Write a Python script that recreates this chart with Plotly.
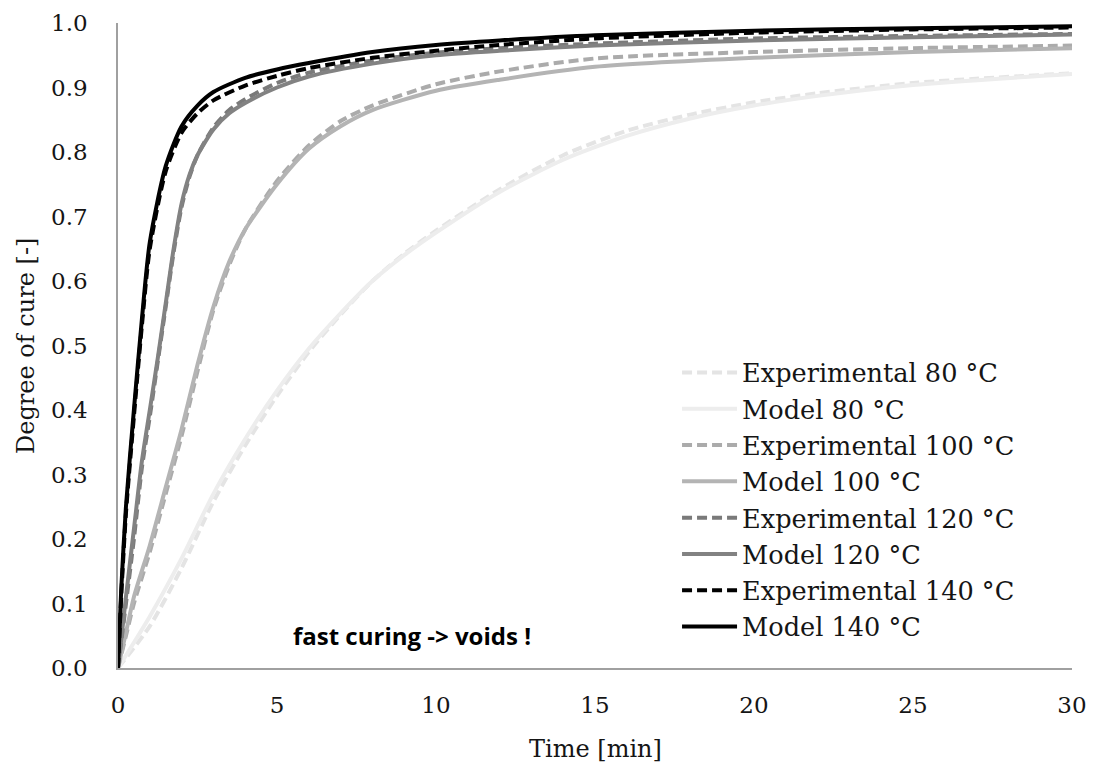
import plotly.graph_objects as go

# ---- data (time in minutes, degree of cure) ----
t_exp80 = [0, 1, 2, 3, 4, 5, 6, 7, 8, 9, 10, 12, 14, 16, 18, 20, 22, 25, 30]
a_exp80 = [0, 0.065, 0.155, 0.258, 0.345, 0.422, 0.49, 0.548, 0.60, 0.642, 0.678, 0.742, 0.795, 0.833, 0.858, 0.877, 0.891, 0.907, 0.922]
t_mod80 = [0, 1, 2, 3, 4, 5, 6, 7, 8, 9, 10, 12, 14, 16, 18, 20, 22, 25, 30]
a_mod80 = [0, 0.08, 0.17, 0.27, 0.355, 0.43, 0.495, 0.55, 0.60, 0.64, 0.675, 0.738, 0.788, 0.825, 0.852, 0.872, 0.887, 0.904, 0.921]

t_exp100 = [0, 0.25, 0.5, 1, 1.5, 2, 2.5, 3, 3.5, 4, 5, 6, 7, 8, 10, 12, 15, 20, 25, 30]
a_exp100 = [0, 0.05, 0.10, 0.18, 0.27, 0.36, 0.46, 0.555, 0.625, 0.68, 0.755, 0.81, 0.848, 0.872, 0.905, 0.925, 0.945, 0.955, 0.961, 0.965]
t_mod100 = [0, 0.25, 0.5, 1, 1.5, 2, 2.5, 3, 3.5, 4, 5, 6, 7, 8, 10, 12, 15, 20, 25, 30]
a_mod100 = [0, 0.055, 0.11, 0.19, 0.28, 0.37, 0.47, 0.56, 0.63, 0.68, 0.75, 0.805, 0.84, 0.865, 0.895, 0.912, 0.932, 0.946, 0.955, 0.961]

t_exp120 = [0, 0.25, 0.5, 0.75, 1, 1.25, 1.5, 1.75, 2, 2.25, 2.5, 3, 3.5, 4, 5, 6, 8, 10, 12, 15, 20, 25, 30]
a_exp120 = [0, 0.10, 0.20, 0.31, 0.39, 0.475, 0.56, 0.645, 0.715, 0.762, 0.795, 0.838, 0.865, 0.882, 0.907, 0.923, 0.942, 0.954, 0.961, 0.968, 0.976, 0.980, 0.983]
t_mod120 = [0, 0.25, 0.5, 0.75, 1, 1.25, 1.5, 1.75, 2, 2.25, 2.5, 3, 3.5, 4, 5, 6, 8, 10, 12, 15, 20, 25, 30]
a_mod120 = [0, 0.11, 0.215, 0.32, 0.40, 0.48, 0.565, 0.65, 0.72, 0.765, 0.795, 0.835, 0.86, 0.876, 0.90, 0.917, 0.937, 0.95, 0.957, 0.965, 0.973, 0.978, 0.982]

t_exp140 = [0, 0.1, 0.25, 0.5, 0.75, 1, 1.5, 2, 2.5, 3, 4, 5, 6, 8, 10, 12, 15, 20, 25, 30]
a_exp140 = [0, 0.11, 0.24, 0.39, 0.53, 0.65, 0.77, 0.83, 0.86, 0.88, 0.903, 0.918, 0.93, 0.946, 0.957, 0.966, 0.976, 0.985, 0.990, 0.993]
t_mod140 = [0, 0.1, 0.25, 0.5, 0.75, 1, 1.5, 2, 2.5, 3, 4, 5, 6, 8, 10, 12, 15, 20, 25, 30]
a_mod140 = [0, 0.12, 0.25, 0.40, 0.54, 0.66, 0.778, 0.84, 0.872, 0.893, 0.915, 0.928, 0.938, 0.955, 0.966, 0.973, 0.981, 0.988, 0.992, 0.995]

x_ticks = [0, 5, 10, 15, 20, 25, 30]
y_ticks = [0.0, 0.1, 0.2, 0.3, 0.4, 0.5, 0.6, 0.7, 0.8, 0.9, 1.0]

series = [
    ("Experimental 80 °C", t_exp80, a_exp80, "#e4e4e4", True),
    ("Model 80 °C", t_mod80, a_mod80, "#ededed", False),
    ("Experimental 100 °C", t_exp100, a_exp100, "#ababab", True),
    ("Model 100 °C", t_mod100, a_mod100, "#b4b4b4", False),
    ("Experimental 120 °C", t_exp120, a_exp120, "#7a7a7a", True),
    ("Model 120 °C", t_mod120, a_mod120, "#828282", False),
    ("Experimental 140 °C", t_exp140, a_exp140, "#000000", True),
    ("Model 140 °C", t_mod140, a_mod140, "#000000", False),
]

fig = go.Figure()
for name, t, a, col, dashed in series:
    fig.add_trace(go.Scatter(
        x=t, y=a, name=name, mode="lines",
        line=dict(color=col, width=4, dash="10px,5px" if dashed else "solid",
                  shape="spline", smoothing=0.7),
    ))

SERIF = "DejaVu Serif"
TXT = "#151515"
# the page body has an 8px margin, so the figure is offset by (8, 8)
fig.update_layout(
    width=1086, height=756,
    margin=dict(l=110, r=22, t=15, b=96, autoexpand=False),
    paper_bgcolor="white", plot_bgcolor="white",
    font=dict(family=SERIF, size=24, color=TXT),
    showlegend=True,
    legend=dict(x=0.586, y=0.494, xanchor="left", yanchor="top",
                bgcolor="rgba(0,0,0,0)", itemwidth=55,
                font=dict(family=SERIF, size=25.6, color=TXT),
                tracegroupgap=0),
    xaxis=dict(range=[0, 30], tickvals=x_ticks, ticktext=[str(v) for v in x_ticks],
               showgrid=False, zeroline=False, showline=True, linecolor="#a0a0a0",
               linewidth=1.5, ticks="", ticklabelstandoff=16, automargin=False,
               tickfont=dict(family=SERIF, size=23, color=TXT)),
    yaxis=dict(range=[0, 1.0], tickvals=y_ticks, ticktext=[f"{v:.1f}" for v in y_ticks],
               showgrid=False, zeroline=False, showline=True, linecolor="#a0a0a0",
               linewidth=1.5, ticks="", ticklabelstandoff=24, automargin=False,
               tickfont=dict(family=SERIF, size=23, color=TXT)),
    annotations=[
        dict(text="Time [min]", xref="paper", yref="paper", x=0.5, y=-0.125,
             xanchor="center", yanchor="middle", showarrow=False,
             font=dict(family=SERIF, size=24, color=TXT)),
        dict(text="Degree of cure [-]", xref="paper", yref="paper", x=-0.097, y=0.5,
             xanchor="center", yanchor="middle", textangle=-90, showarrow=False,
             font=dict(family=SERIF, size=24, color=TXT)),
        dict(text="<b>fast curing -> voids !</b>", xref="x", yref="y", x=9.25, y=0.05,
             xanchor="center", yanchor="middle", showarrow=False,
             font=dict(family="Open Sans", size=24, color="#000000")),
    ],
)

fig.write_html("out.html")
